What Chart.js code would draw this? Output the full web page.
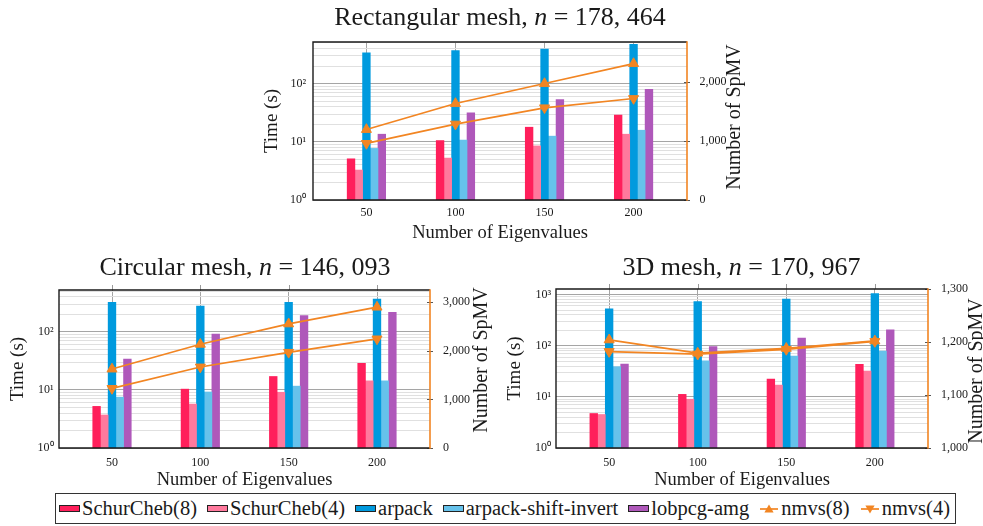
<!DOCTYPE html>
<html><head><meta charset="utf-8">
<script src="https://cdn.jsdelivr.net/npm/chart.js@4/dist/chart.umd.min.js"></script>
<style>
html,body{margin:0;padding:0;background:#fff;}
body{width:983px;height:526px;position:relative;overflow:hidden;font-family:'Liberation Serif',serif;color:#1a1a1a;}
canvas{position:absolute;}
.ttl{position:absolute;text-align:center;white-space:nowrap;font-size:26px;height:32px;line-height:32px;width:600px;}
.rt{position:absolute;text-align:center;white-space:nowrap;font-size:20px;height:24px;line-height:24px;width:220px;transform:rotate(-90deg);transform-origin:50% 50%;}
#legend{position:absolute;left:55px;top:493px;width:901px;height:31px;box-sizing:border-box;border:1px solid #333;display:flex;align-items:center;justify-content:space-between;padding:0 5px 0 3px;font-size:20.5px;}
#legend .item{display:flex;align-items:center;white-space:nowrap;}
#legend .sw{display:inline-block;width:21px;height:7px;box-sizing:border-box;border:1px solid #222;margin-right:2px;}
#legend svg{margin-right:2px;}
</style>
</head>
<body>
<canvas id="cRect"></canvas>
<canvas id="cCirc"></canvas>
<canvas id="c3d"></canvas>
<div class="ttl" style="left:200px;top:1px;">Rectangular mesh, <i>n</i> = 178, 464</div>
<div class="ttl" style="left:-55px;top:250.5px;">Circular mesh, <i>n</i> = 146, 093</div>
<div class="ttl" style="left:441.5px;top:251px;">3D mesh, <i>n</i> = 170, 967</div>
<div class="rt" style="left:623px;top:105px;">Number of SpMV</div>
<div class="rt" style="left:370px;top:348px;">Number of SpMV</div>
<div class="rt" style="left:865px;top:359px;">Number of SpMV</div>
<div id="legend"></div>
<script>
// ---------------- data ----------------
const eigenvalues = [50, 100, 150, 200];

const seriesNames = ['SchurCheb(8)', 'SchurCheb(4)', 'arpack', 'arpack-shift-invert', 'lobpcg-amg', 'nmvs(8)', 'nmvs(4)'];

// Rectangular mesh, n = 178,464
const rectSchur8   = [5.1, 10.5, 17.8, 28.7];
const rectSchur4   = [3.27, 5.25, 8.5, 13.5];
const rectArpack   = [336, 368, 393, 472];
const rectArpackSI = [7.7, 10.7, 12.5, 15.8];
const rectLobpcg   = [13.5, 31.4, 53.2, 80];
const rectNmvs8    = [1194, 1634, 1972, 2310];
const rectNmvs4    = [958, 1285, 1561, 1718];

// Circular mesh, n = 146,093
const circSchur8   = [5.2, 10.3, 17, 28.5];
const circSchur4   = [3.7, 5.7, 9.1, 14.3];
const circArpack   = [320, 277, 320, 366];
const circArpackSI = [7.5, 9.2, 11.6, 14.3];
const circLobpcg   = [33.8, 91, 189, 215];
const circNmvs8    = [1624, 2134, 2553, 2897];
const circNmvs4    = [1225, 1666, 1968, 2244];

// 3D mesh, n = 170,967
const d3Schur8   = [4.73, 11.2, 22.3, 43.4];
const d3Schur4   = [4.52, 9.0, 17, 32];
const d3Arpack   = [530, 728, 821, 1045];
const d3ArpackSI = [39, 51, 63, 79];
const d3Lobpcg   = [44, 96.5, 141, 205];
const d3Nmvs8    = [1204, 1179, 1188, 1202];
const d3Nmvs4    = [1182, 1177, 1186, 1201];

// tick labels
const xTickValues = [50, 100, 150, 200];
const timeTickValues = [1, 10, 100, 1000];
const timeTickLabels = ['10\u2070', '10\u00b9', '10\u00b2', '10\u00b3'];
const spmvTicksRect = [0, 1000, 2000];
const spmvTicksCirc = [0, 1000, 2000, 3000];
const spmvTicks3D   = [1000, 1100, 1200, 1300];

// ---------------- styling ----------------
const COLORS = ['#FF1F5B', '#FF799D', '#009ADE', '#66C2EB', '#AF58BA'];
const ORANGE = '#F28522';
const TICK_FONT = 12;
Chart.defaults.font.family = "'Liberation Serif', serif";
Chart.defaults.color = '#1a1a1a';

function logTicks(max) {
  const t = [];
  for (let e = 0; e < 6; e++) {
    for (let k = 1; k < 10; k++) {
      const v = k * Math.pow(10, e);
      if (v > max + 1e-9) return t;
      t.push({ value: v, major: k === 1 });
    }
  }
  return t;
}

const framePlugin = {
  id: 'frame',
  afterDatasetsDraw(chart, args, opts) {
    const { ctx, chartArea: a } = chart;
    ctx.save();
    if (opts.topExt) {
      ctx.strokeStyle = '#9a9a9a'; ctx.lineWidth = 1;
      xTickValues.forEach(v => {
        const px = Math.round(chart.scales.x.getPixelForValue(v)) + 0.5;
        ctx.beginPath(); ctx.moveTo(px, a.top - opts.topExt); ctx.lineTo(px, a.top); ctx.stroke();
      });
    }
    // small ticks on right axis
    ctx.strokeStyle = '#555'; ctx.lineWidth = 1;
    chart.scales.y1.ticks.forEach(t => {
      const py = Math.round(chart.scales.y1.getPixelForValue(t.value)) + 0.5;
      ctx.beginPath(); ctx.moveTo(a.right - 3, py); ctx.lineTo(a.right + 3, py); ctx.stroke();
    });
    ctx.strokeStyle = '#1a1a1a'; ctx.lineWidth = 1.4;
    ctx.beginPath();
    ctx.moveTo(a.right, a.top); ctx.lineTo(a.left, a.top); ctx.lineTo(a.left, a.bottom); ctx.lineTo(a.right, a.bottom);
    ctx.stroke();
    ctx.strokeStyle = ORANGE; ctx.lineWidth = 1.6;
    ctx.beginPath(); ctx.moveTo(a.right, a.top - 0.7); ctx.lineTo(a.right, a.bottom + 0.7); ctx.stroke();
    ctx.restore();
  }
};

function makeDatasets(s8, s4, ar, arsi, lob, n8, n4) {
  const pts = arr => eigenvalues.map((x, i) => ({ x: x, y: arr[i] }));
  const bar = (i, arr) => ({
    type: 'bar', label: seriesNames[i], data: pts(arr), yAxisID: 'y', order: 1,
    backgroundColor: COLORS[i], borderWidth: 0, barThickness: 7.7
  });
  const line = (i, arr, rot) => ({
    type: 'line', label: seriesNames[i], data: pts(arr), yAxisID: 'y1', order: 0,
    borderColor: ORANGE, backgroundColor: ORANGE, borderWidth: 1.7, tension: 0,
    pointStyle: 'triangle', pointRotation: rot, pointRadius: 5.8,
    pointBackgroundColor: ORANGE, pointBorderColor: ORANGE, pointBorderWidth: 1
  });
  return [bar(0, s8), bar(1, s4), bar(2, ar), bar(3, arsi), bar(4, lob), line(5, n8, 0), line(6, n4, 180)];
}

function makeChart(id, c) {
  const canvas = document.getElementById(id);
  canvas.style.left = c.left + 'px'; canvas.style.top = c.top + 'px';
  canvas.width = c.width; canvas.height = c.height;
  const yW = c.plot.left - c.left;
  const y1W = c.left + c.width - c.plot.right;
  const xH = c.top + c.height - c.plot.bottom;
  const padTop = c.plot.top - c.top;
  return new Chart(canvas, {
    type: 'bar',
    data: { datasets: c.datasets },
    plugins: [framePlugin],
    options: {
      responsive: false, animation: false, events: [],
      layout: { padding: { top: padTop, left: 0, right: 0, bottom: 0 } },
      plugins: { legend: { display: false }, tooltip: { enabled: false }, title: { display: false }, frame: { topExt: c.topExt } },
      scales: {
        x: {
          type: 'linear', min: 20, max: 230, bounds: 'data', offset: false,
          afterBuildTicks: s => { s.ticks = xTickValues.map(v => ({ value: v })); },
          afterFit: s => { s.height = xH; },
          ticks: { autoSkip: false, maxRotation: 0, padding: c.xTickPad, font: { size: TICK_FONT }, color: '#1a1a1a', callback: v => String(v) },
          grid: { offset: false, color: '#a5a5a5', lineWidth: 1, drawTicks: false },
          border: { display: false },
          title: { display: true, text: 'Number of Eigenvalues', font: { size: 18.5 }, color: '#1a1a1a', padding: { top: 0, bottom: c.xTitlePad } }
        },
        y: {
          type: 'logarithmic', position: 'left', min: 1, max: c.yMax, bounds: 'data',
          afterBuildTicks: s => { s.ticks = logTicks(c.yMax); },
          afterFit: s => { s.width = yW; },
          ticks: { autoSkip: false, padding: c.yTickPad, font: { size: TICK_FONT }, color: '#1a1a1a',
            callback: v => { const i = timeTickValues.indexOf(v); return i >= 0 ? timeTickLabels[i] : ''; } },
          grid: { color: ctx => (ctx.tick && ctx.tick.major) ? '#a5a5a5' : '#e0e0e0', lineWidth: 1, drawTicks: false },
          border: { display: false },
          title: { display: true, text: 'Time (s)', font: { size: 19 }, color: '#1a1a1a', padding: { top: c.yTitlePad, bottom: 0 } }
        },
        y1: {
          type: 'linear', position: 'right', min: c.y1Min, max: c.y1Max, bounds: 'data',
          afterBuildTicks: s => { s.ticks = c.y1Ticks.map(v => ({ value: v })); },
          afterFit: s => { s.width = y1W; },
          ticks: { autoSkip: false, padding: c.y1TickPad, font: { size: TICK_FONT }, color: '#1a1a1a', callback: v => v.toLocaleString('en-US') },
          grid: { display: false, drawOnChartArea: false },
          border: { display: false }
        }
      }
    }
  });
}

makeChart('cRect', {
  left: 230, top: 0, width: 540, height: 245,
  plot: { left: 313, right: 687, top: 42, bottom: 200 },
  yMax: 518, y1Min: 0, y1Max: 2675, y1Ticks: spmvTicksRect,
  xTickPad: 6.1, xTitlePad: 0.9, yTickPad: 7, yTitlePad: 30.3, y1TickPad: 4.5, topExt: 0,
  datasets: makeDatasets(rectSchur8, rectSchur4, rectArpack, rectArpackSI, rectLobpcg, rectNmvs8, rectNmvs4)
});
makeChart('cCirc', {
  left: 0, top: 245, width: 490, height: 247,
  plot: { left: 59, right: 430, top: 290, bottom: 448 },
  yMax: 523, y1Min: 0, y1Max: 3250, y1Ticks: spmvTicksCirc,
  xTickPad: 8.1, xTitlePad: 0.9, yTickPad: 5.5, yTitlePad: 6.9, y1TickPad: 5, topExt: 5,
  datasets: makeDatasets(circSchur8, circSchur4, circArpack, circArpackSI, circLobpcg, circNmvs8, circNmvs4)
});
makeChart('c3d', {
  left: 490, top: 245, width: 493, height: 247,
  plot: { left: 556, right: 928, top: 289, bottom: 448 },
  yMax: 1290, y1Min: 1000, y1Max: 1300, y1Ticks: spmvTicks3D,
  xTickPad: 8.1, xTitlePad: 0.9, yTickPad: 5, yTitlePad: 13.6, y1TickPad: 5, topExt: 5,
  datasets: makeDatasets(d3Schur8, d3Schur4, d3Arpack, d3ArpackSI, d3Lobpcg, d3Nmvs8, d3Nmvs4)
});

// ---------------- legend ----------------
const legend = document.getElementById('legend');
seriesNames.forEach((name, i) => {
  const item = document.createElement('span');
  item.className = 'item';
  if (i < 5) {
    const sw = document.createElement('span');
    sw.className = 'sw';
    sw.style.background = COLORS[i];
    item.appendChild(sw);
  } else {
    const up = i === 5;
    const tri = up ? '10,1.5 14.6,9.5 5.4,9.5' : '10,10.5 14.6,2.5 5.4,2.5';
    item.insertAdjacentHTML('beforeend',
      '<svg width="20" height="12" viewBox="0 0 20 12"><line x1="1" y1="6" x2="19" y2="6" stroke="' + ORANGE + '" stroke-width="1.7"/>' +
      '<polygon points="' + tri + '" fill="' + ORANGE + '"/></svg>');
  }
  item.appendChild(document.createTextNode(name));
  legend.appendChild(item);
});
</script>
</body></html>
